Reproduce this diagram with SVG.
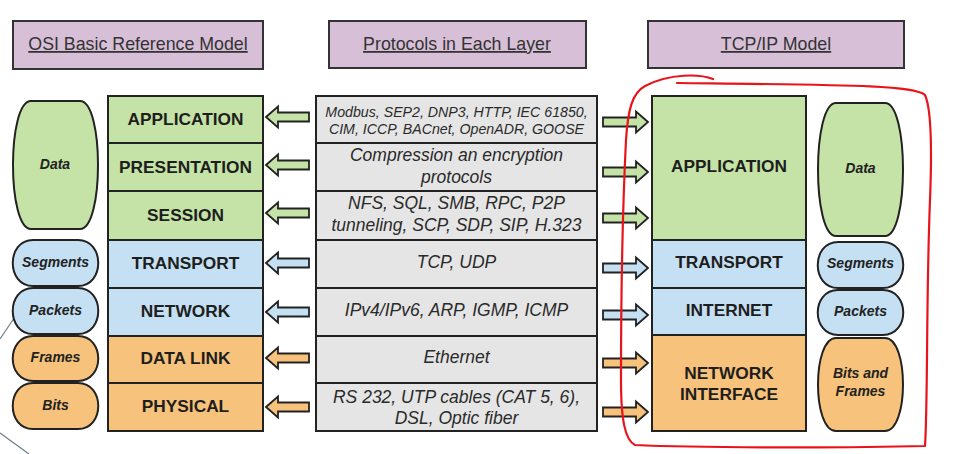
<svg xmlns="http://www.w3.org/2000/svg" width="956" height="454" viewBox="0 0 956 454">
<style>
.title{fill:#d8bfd8;stroke:#333;stroke-width:2}
.tt{font-family:"Liberation Sans",Arial,sans-serif;font-size:17.8px;fill:#333;text-anchor:middle;text-decoration:underline}
.g{fill:#c5e3a6}
.b{fill:#c4e0f2}
.o{fill:#f7c27b}
.p{fill:#e5e5e5}
.box{stroke:#222;stroke-width:2}
.lay{font-family:"Liberation Sans",Arial,sans-serif;font-size:17.3px;font-weight:bold;fill:#1e1e1e;text-anchor:middle}
.pro{font-family:"Liberation Sans",Arial,sans-serif;font-size:17.5px;font-style:italic;fill:#2a2a2a;text-anchor:middle}
.pro2{font-family:"Liberation Sans",Arial,sans-serif;font-size:14.2px;font-style:italic;fill:#2a2a2a;text-anchor:middle}
.pill{font-family:"Liberation Sans",Arial,sans-serif;font-size:14px;font-weight:bold;font-style:italic;fill:#222;text-anchor:middle}
.arr{stroke:#222;stroke-width:1.8;stroke-linejoin:miter}
</style>
<defs>
<path id="la" d="M0,0 L12,-10.5 L12,-4.5 L43,-4.5 L43,4.5 L12,4.5 L12,10.5 Z"/>
<path id="ra" d="M0,0 L-12,-10.5 L-12,-4.5 L-45,-4.5 L-45,4.5 L-12,4.5 L-12,10.5 Z"/>
</defs>
<rect width="956" height="454" fill="#ffffff"/>
<g id="decor" fill="none" stroke="#6a7d8c" stroke-width="1.2">
<path d="M25,302 L0,339"/>
<path d="M0,433 L29,454"/>
</g>
<g id="title-osi"><rect class="title" x="13" y="21" width="250" height="48"/><text class="tt" x="138" y="50">OSI Basic Reference Model</text></g>
<g id="title-protocols"><rect class="title" x="329" y="21" width="257" height="47"/><text class="tt" x="457" y="50">Protocols in Each Layer</text></g>
<g id="title-tcpip"><rect class="title" x="648" y="21" width="256" height="47"/><text class="tt" x="776" y="50">TCP/IP Model</text></g>

<g id="osi-application"><rect class="g box" x="108" y="96" width="155" height="47"/><text class="lay" x="185.5" y="125">APPLICATION</text></g>
<g id="osi-presentation"><rect class="g box" x="108" y="143" width="155" height="48"/><text class="lay" x="185.5" y="173">PRESENTATION</text></g>
<g id="osi-session"><rect class="g box" x="108" y="191" width="155" height="49"/><text class="lay" x="185.5" y="221">SESSION</text></g>
<g id="osi-transport"><rect class="b box" x="108" y="240" width="155" height="48"/><text class="lay" x="185.5" y="269">TRANSPORT</text></g>
<g id="osi-network"><rect class="b box" x="108" y="288" width="155" height="48"/><text class="lay" x="185.5" y="317">NETWORK</text></g>
<g id="osi-datalink"><rect class="o box" x="108" y="336" width="155" height="47"/><text class="lay" x="185.5" y="364">DATA LINK</text></g>
<g id="osi-physical"><rect class="o box" x="108" y="383" width="155" height="48"/><text class="lay" x="185.5" y="412">PHYSICAL</text></g>

<g id="pdu-data-l"><path class="g box" d="M31,101 H80 C104,101 104,229 80,229 H31 C7,229 7,101 31,101 Z"/><text class="pill" x="55" y="169">Data</text></g>
<g id="pdu-segments-l"><path class="b box" d="M33,240 H78 C105,240 105,286 78,286 H33 C6,286 6,240 33,240 Z"/><text class="pill" x="55.5" y="267">Segments</text></g>
<g id="pdu-packets-l"><path class="b box" d="M33,288 H78 C105,288 105,334 78,334 H33 C6,334 6,288 33,288 Z"/><text class="pill" x="55.5" y="315">Packets</text></g>
<g id="pdu-frames-l"><path class="o box" d="M33,336 H78 C105,336 105,381 78,381 H33 C6,381 6,336 33,336 Z"/><text class="pill" x="55.5" y="362">Frames</text></g>
<g id="pdu-bits-l"><path class="o box" d="M33,383 H78 C105,383 105,429 78,429 H33 C6,429 6,383 33,383 Z"/><text class="pill" x="55.5" y="410">Bits</text></g>

<g id="proto-application"><rect class="p box" x="316" y="96" width="281" height="47"/><text class="pro2" x="456.5" y="117">Modbus, SEP2, DNP3, HTTP, IEC 61850,</text><text class="pro2" x="456.5" y="134">CIM, ICCP, BACnet, OpenADR, GOOSE</text></g>
<g id="proto-presentation"><rect class="p box" x="316" y="143" width="281" height="48"/><text class="pro" x="456.5" y="161">Compression an encryption</text><text class="pro" x="456.5" y="183">protocols</text></g>
<g id="proto-session"><rect class="p box" x="316" y="191" width="281" height="49"/><text class="pro" x="456.5" y="209">NFS, SQL, SMB, RPC, P2P</text><text class="pro" x="456.5" y="231">tunneling, SCP, SDP, SIP, H.323</text></g>
<g id="proto-transport"><rect class="p box" x="316" y="240" width="281" height="48"/><text class="pro" x="456.5" y="268">TCP, UDP</text></g>
<g id="proto-network"><rect class="p box" x="316" y="288" width="281" height="48"/><text class="pro" x="456.5" y="316">IPv4/IPv6, ARP, IGMP, ICMP</text></g>
<g id="proto-datalink"><rect class="p box" x="316" y="336" width="281" height="47"/><text class="pro" x="456.5" y="363">Ethernet</text></g>
<g id="proto-physical"><rect class="p box" x="316" y="383" width="281" height="48"/><text class="pro" x="456.5" y="403">RS 232, UTP cables (CAT 5, 6),</text><text class="pro" x="456.5" y="424">DSL, Optic fiber</text></g>

<g id="tcp-application"><rect class="g box" x="652" y="96" width="154" height="144"/><text class="lay" x="729" y="172">APPLICATION</text></g>
<g id="tcp-transport"><rect class="b box" x="652" y="240" width="154" height="48"/><text class="lay" x="729" y="268">TRANSPORT</text></g>
<g id="tcp-internet"><rect class="b box" x="652" y="288" width="154" height="47"/><text class="lay" x="729" y="316">INTERNET</text></g>
<g id="tcp-netif"><rect class="o box" x="652" y="335" width="154" height="96"/><text class="lay" x="729" y="379">NETWORK</text><text class="lay" x="729" y="400">INTERFACE</text></g>

<g id="pdu-data-r"><path class="g box" d="M836,103 H885 C909,103 909,236 885,236 H836 C812,236 812,103 836,103 Z"/><text class="pill" x="860.5" y="173">Data</text></g>
<g id="pdu-segments-r"><path class="b box" d="M838,242 H883 C910,242 910,288 883,288 H838 C811,288 811,242 838,242 Z"/><text class="pill" x="860.5" y="268">Segments</text></g>
<g id="pdu-packets-r"><path class="b box" d="M838,290 H883 C910,290 910,335 883,335 H838 C811,335 811,290 838,290 Z"/><text class="pill" x="860.5" y="316">Packets</text></g>
<g id="pdu-bitsframes-r"><path class="o box" d="M836,338 H885 C909,338 909,431 885,431 H836 C812,431 812,338 836,338 Z"/><text class="pill" x="860.5" y="378">Bits and</text><text class="pill" x="860.5" y="396">Frames</text></g>

<g id="connectors">
<use href="#la" class="g arr" x="266" y="117"/>
<use href="#la" class="g arr" x="266" y="165"/>
<use href="#la" class="g arr" x="266" y="213"/>
<use href="#la" class="b arr" x="266" y="263"/>
<use href="#la" class="b arr" x="266" y="312"/>
<use href="#la" class="o arr" x="266" y="358"/>
<use href="#la" class="o arr" x="266" y="407"/>
<use href="#ra" class="g arr" x="648" y="122"/>
<use href="#ra" class="g arr" x="648" y="172"/>
<use href="#ra" class="g arr" x="648" y="218"/>
<use href="#ra" class="b arr" x="648" y="268"/>
<use href="#ra" class="b arr" x="648" y="315"/>
<use href="#ra" class="o arr" x="648" y="363"/>
<use href="#ra" class="o arr" x="648" y="412"/>
</g>

<g id="annotation" fill="none" stroke="#e8141a" stroke-width="2.2" stroke-linecap="round" stroke-linejoin="round">
<path d="M713,79 C700,74 670,73 645,86 C632,93 628,110 626,140 C623,200 621,300 621,380 C621,420 625,440 635,445 C700,448 850,448 925,446 C928,400 926,300 930,200 C932,150 932,110 925,95 C915,85 850,85 677,83"/>
</g>
</svg>
